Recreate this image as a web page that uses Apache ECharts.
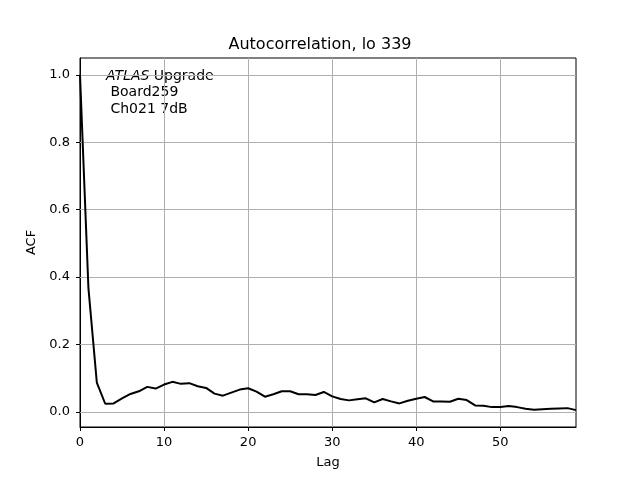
<!DOCTYPE html>
<html><head><meta charset="utf-8">
<script src="https://cdn.jsdelivr.net/npm/echarts@6/dist/echarts.min.js"></script>
<style>html,body{margin:0;padding:0;background:#fff}#c{width:640px;height:480px}</style>
</head><body><div id="c"></div>
<script>
const lags = Array.from({length: 60}, (_, i) => i);
const acf = [1.0, 0.368, 0.087, 0.024, 0.025, 0.040, 0.053, 0.061, 0.074, 0.069,
  0.081, 0.089, 0.083, 0.085, 0.076, 0.071, 0.054, 0.048, 0.057, 0.066,
  0.070, 0.060, 0.045, 0.052, 0.061, 0.061, 0.052, 0.052, 0.050, 0.059,
  0.046, 0.038, 0.034, 0.037, 0.040, 0.028, 0.038, 0.031, 0.025, 0.033,
  0.039, 0.044, 0.031, 0.031, 0.030, 0.039, 0.035, 0.019, 0.018, 0.014,
  0.014, 0.017, 0.014, 0.009, 0.006, 0.008, 0.009, 0.010, 0.011, 0.005];
const yTicks = [0, 0.2, 0.4, 0.6, 0.8, 1.0];
const xTicks = [0, 10, 20, 30, 40, 50];
const titleText = 'Autocorrelation, lo 339';
const annotation = ['ATLAS', ' Upgrade', ' Board259', ' Ch021 7dB'];

const font = 'DejaVu Sans';
const chart = echarts.init(document.getElementById('c'), null, {renderer: 'canvas'});
chart.setOption({
  animation: false,
  backgroundColor: '#fff',
  title: {
    text: titleText, left: 'center', top: 32,
    textStyle: {fontFamily: font, fontSize: 16, fontWeight: 'normal', color: '#000'}
  },
  grid: {left: 80, right: 64, top: 58, bottom: 53, show: true, borderColor: '#000', borderWidth: 1, backgroundColor: 'transparent'},
  xAxis: {
    type: 'value', min: 0, max: 59, interval: 10,
    name: 'Lag', nameLocation: 'middle', nameGap: 29,
    nameTextStyle: {fontFamily: font, fontSize: 13, color: '#000'},
    axisLine: {show: true, onZero: false, lineStyle: {color: '#000', width: 1}},
    axisTick: {show: true, inside: false, length: 4, lineStyle: {color: '#000'}, customValues: xTicks},
    axisLabel: {fontFamily: font, fontSize: 13, color: '#000', margin: 9, customValues: xTicks},
    splitLine: {show: true, lineStyle: {color: '#b0b0b0', width: 1}}
  },
  yAxis: {
    type: 'value', min: -0.045, max: 1.0498,
    name: 'ACF', nameLocation: 'middle', nameGap: 39, nameRotate: 90,
    nameTextStyle: {fontFamily: font, fontSize: 13, color: '#000'},
    axisLine: {show: true, onZero: false, lineStyle: {color: '#000', width: 1}},
    axisTick: {show: true, inside: false, length: 4, lineStyle: {color: '#000'}, customValues: yTicks},
    axisLabel: {fontFamily: font, fontSize: 13, color: '#000', margin: 10, customValues: yTicks,
      formatter: v => v.toFixed(1)},
    splitLine: {show: false}
  },
  series: [{
    type: 'line', data: lags.map((l, i) => [l, acf[i]]),
    showSymbol: false, lineStyle: {color: '#000', width: 2}, z: 5,
    markLine: {
      silent: true, symbol: 'none', label: {show: false},
      lineStyle: {color: '#b0b0b0', width: 1, type: 'solid'},
      data: yTicks.map(v => ({yAxis: v})), z: 1
    }
  }],
  graphic: [{
    type: 'text', left: 106, top: 69,
    style: {
      text: '{i|' + annotation[0] + '}{n|' + annotation[1] + '}\n{n|' + annotation[2] + '}\n{n|' + annotation[3] + '}',
      rich: {
        i: {fontFamily: font, fontSize: 14, fontStyle: 'italic', fill: '#000', lineHeight: 16.5},
        n: {fontFamily: font, fontSize: 14, fill: '#000', lineHeight: 16.5}
      }
    }
  }]
});
</script></body></html>
